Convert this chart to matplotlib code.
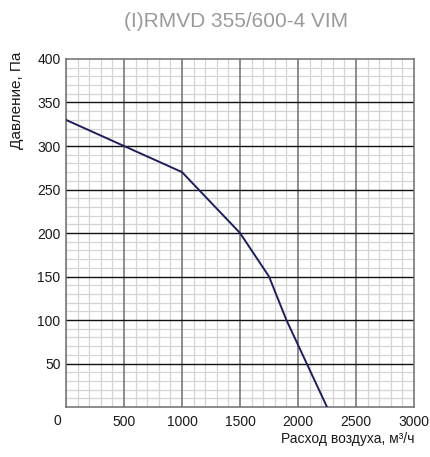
import numpy as np
import matplotlib.pyplot as plt
from matplotlib.ticker import MultipleLocator

# --- Дані кривої вентилятора ---
flow = [0, 500, 1000, 1500, 1750, 1900, 2250]
pressure = [330, 300, 270, 200, 150, 100, 0]

x_ticks = [500, 1000, 1500, 2000, 2500, 3000]
y_ticks = [50, 100, 150, 200, 250, 300, 350, 400]

plt.rcParams['font.family'] = ['Liberation Sans', 'DejaVu Sans']

fig = plt.figure(figsize=(4.3, 4.57), dpi=100)
ax = fig.add_axes([0.1535, 0.1094, 0.8093, 0.7615])

ax.set_xlim(0, 3000)
ax.set_ylim(0, 400)

# дрібна сітка
ax.xaxis.set_minor_locator(MultipleLocator(100))
ax.yaxis.set_minor_locator(MultipleLocator(10))
ax.set_xticks(x_ticks)
ax.set_yticks(y_ticks)
ax.grid(which='minor', color='#d4d4d4', linewidth=0.9)
ax.set_axisbelow(True)

# основна сітка поверх дрібної
for xv in x_ticks[:-1]:
    ax.axvline(xv, color='#6e6e6e', linewidth=1.1, zorder=1.5)
for yv in y_ticks[:-1]:
    ax.axhline(yv, color='#111111', linewidth=1.0, zorder=1.6)

ax.plot(flow, pressure, color='#1f1f5c', linewidth=1.4, zorder=3)

for s in ax.spines.values():
    s.set_color('#6e6e6e')
    s.set_linewidth(1.1)

ax.tick_params(which='both', length=0, labelsize=10, colors='#1a1a1a')
ax.tick_params(axis='x', pad=6)
ax.tick_params(axis='y', pad=4)
ax.text(-0.026, -0.019, '0', transform=ax.transAxes, ha='center', va='top',
        fontsize=10, color='#1a1a1a')

ax.set_ylabel('Давление, Па', fontsize=11, color='#1a1a1a')
ax.yaxis.set_label_coords(-0.12, 0.88)
ax.set_xlabel('Расход воздуха, м³/ч', fontsize=10, color='#1a1a1a', ha='right')
ax.xaxis.set_label_coords(1.0, -0.072)
ax.xaxis.label.set_va('top')

fig.text(0.549, 1 - 27 / 457, '(I)RMVD 355/600-4 VIM', ha='center', va='baseline',
         fontsize=15, color='#9a9a9a')

fig.savefig('out.png', dpi=100)
